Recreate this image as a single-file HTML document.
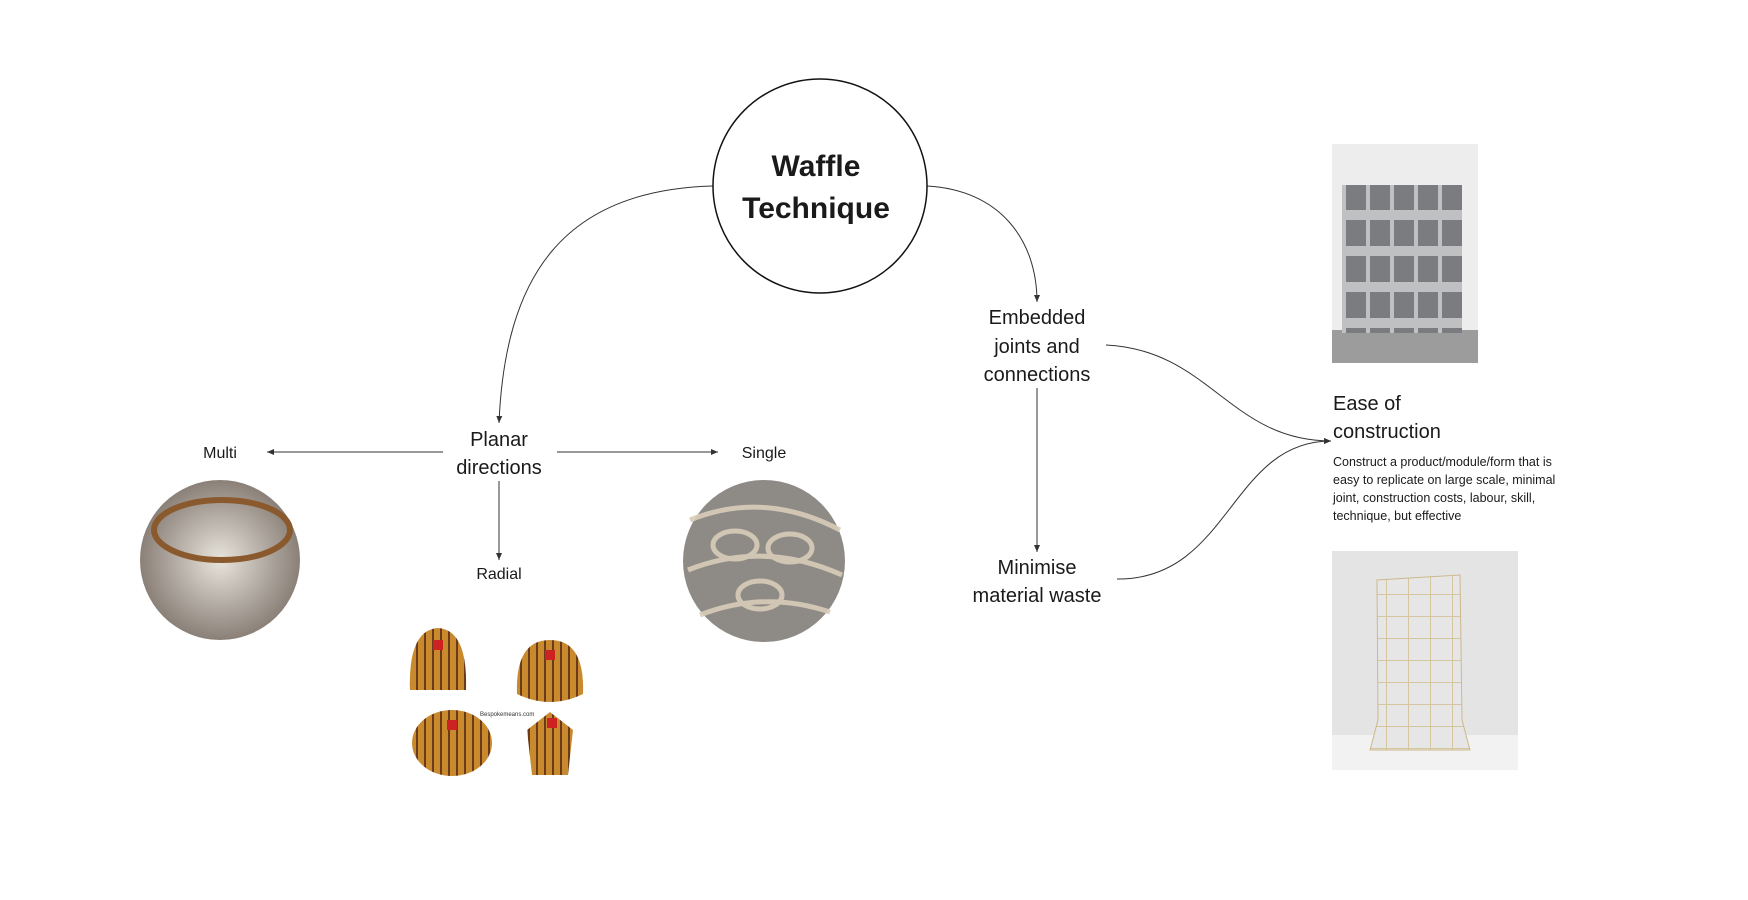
<!DOCTYPE html>
<html><head><meta charset="utf-8"><style>
html,body{margin:0;padding:0;background:#fff;}
svg{display:block;font-family:"Liberation Sans",sans-serif;}
</style></head><body>
<svg width="1748" height="900" viewBox="0 0 1748 900" xmlns="http://www.w3.org/2000/svg">
<defs>
<marker id="a" markerWidth="8" markerHeight="8" refX="7" refY="4" orient="auto" markerUnits="userSpaceOnUse">
<path d="M0,1 L7,4 L0,7 z" fill="#333"/></marker>
<pattern id="stripe" width="8" height="10" patternUnits="userSpaceOnUse">
<rect width="8" height="10" fill="#c98a2e"/><rect width="2" height="10" fill="#6b3a1a"/></pattern>
<radialGradient id="g1" cx="50%" cy="50%" r="50%"><stop offset="0" stop-color="#e8e4dc"/><stop offset="1" stop-color="#8a8078"/></radialGradient>
<pattern id="lat" width="22" height="22" patternUnits="userSpaceOnUse"><rect width="22" height="22" fill="#e6e6e6"/><path d="M0,0 L22,0 M0,0 L0,22" stroke="#d6c6a0" stroke-width="2"/></pattern>
<pattern id="waf" width="24" height="36" patternUnits="userSpaceOnUse"><rect width="24" height="36" fill="#bfc0c2"/><rect x="2" y="4" width="20" height="26" fill="#7a7c80"/></pattern>
</defs>
<g fill="none" stroke="#333" stroke-width="1">
<path d="M713,186 C560,190 505,280 499,423" marker-end="url(#a)"/>
<path d="M927,186 C1000,190 1037,240 1037,302" marker-end="url(#a)"/>
<path d="M443,452 L267,452" marker-end="url(#a)"/>
<path d="M557,452 L718,452" marker-end="url(#a)"/>
<path d="M499,481 L499,560" marker-end="url(#a)"/>
<path d="M1037,388 L1037,552" marker-end="url(#a)"/>
<path d="M1106,345 C1210,350 1230,441 1331,441" marker-end="url(#a)"/>
<path d="M1117,579 C1230,580 1230,441 1331,441" marker-end="url(#a)"/>
</g>
<circle cx="820" cy="186" r="107" fill="#fff" stroke="#111" stroke-width="1.5"/>
<g fill="#1a1a1a" text-anchor="middle">
<text x="816" y="176" font-size="30" font-weight="bold">Waffle</text>
<text x="816" y="218" font-size="30" font-weight="bold">Technique</text>
<text x="1037" y="324" font-size="20">Embedded</text>
<text x="1037" y="353" font-size="20">joints and</text>
<text x="1037" y="381" font-size="20">connections</text>
<text x="1037" y="574" font-size="20">Minimise</text>
<text x="1037" y="602" font-size="20">material waste</text>
<text x="499" y="446" font-size="20">Planar</text>
<text x="499" y="474" font-size="20">directions</text>
<text x="220" y="458" font-size="16">Multi</text>
<text x="764" y="458" font-size="16">Single</text>
<text x="499" y="579" font-size="16">Radial</text>
</g>
<g fill="#1a1a1a">
<text x="1333" y="410" font-size="20">Ease of</text>
<text x="1333" y="438" font-size="20">construction</text>
<text x="1333" y="466" font-size="12.5">Construct a product/module/form that is</text>
<text x="1333" y="484" font-size="12.5">easy to replicate on large scale, minimal</text>
<text x="1333" y="502" font-size="12.5">joint, construction costs, labour, skill,</text>
<text x="1333" y="520" font-size="12.5">technique, but effective</text>
</g>
<!-- images -->
<rect x="1332" y="144" width="146" height="219" fill="#ededed"/>
<rect x="1332" y="330" width="146" height="33" fill="#9c9c9c"/>
<rect x="1342" y="185" width="120" height="148" fill="url(#waf)"/>
<rect x="1332" y="551" width="186" height="219" fill="#e4e4e4"/>
<rect x="1332" y="735" width="186" height="35" fill="#f2f2f2"/>
<path d="M1377,580 L1460,575 L1462,720 L1470,750 L1370,750 L1378,720 z" fill="url(#lat)" stroke="#cdb88c"/>
<circle cx="220" cy="560" r="80" fill="url(#g1)"/>
<ellipse cx="222" cy="530" rx="68" ry="30" fill="none" stroke="#8a5a2e" stroke-width="6"/>
<circle cx="764" cy="561" r="81" fill="#8e8a86"/>
<circle cx="764" cy="561" r="81" fill="none" stroke="#d8cbb8" stroke-width="0"/>
<g stroke="#d9cdb9" stroke-width="5" fill="none" opacity=".9">
<path d="M690,520 Q764,490 840,530 M688,570 Q764,540 842,575 M700,615 Q764,590 830,612"/>
<ellipse cx="735" cy="545" rx="22" ry="14"/><ellipse cx="790" cy="548" rx="22" ry="14"/><ellipse cx="760" cy="595" rx="22" ry="14"/>
</g>
<g>
<path d="M410,690 Q408,630 438,628 Q468,630 466,690 z" fill="url(#stripe)"/>
<path d="M517,694 Q515,640 550,640 Q585,640 583,694 Q550,710 517,694 z" fill="url(#stripe)"/>
<ellipse cx="452" cy="743" rx="40" ry="33" fill="url(#stripe)"/>
<path d="M527,730 L550,712 L573,730 L568,775 L532,775 z" fill="url(#stripe)"/>
<g fill="#cc2222"><rect x="433" y="640" width="10" height="10"/><rect x="545" y="650" width="10" height="10"/><rect x="447" y="720" width="10" height="10"/><rect x="547" y="718" width="10" height="10"/></g>
<text x="480" y="716" font-size="6" fill="#333">Bespokemeans.com</text>
</g>
</svg>
</body></html>
